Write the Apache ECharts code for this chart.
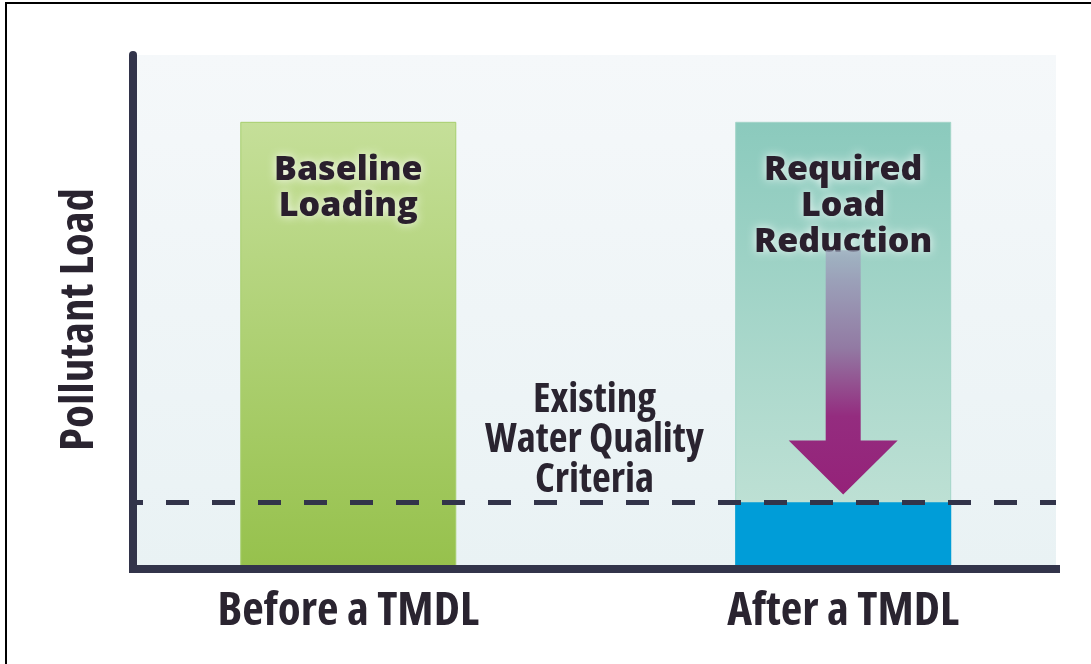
<!DOCTYPE html>
<html>
<head>
<meta charset="utf-8">
<script src="https://cdn.jsdelivr.net/npm/echarts@6/dist/echarts.min.js"></script>
<style>
  html, body { margin: 0; padding: 0; background: #ffffff; }
  #chart { width: 1091px; height: 664px; }
</style>
</head>
<body>
<div id="chart"></div>
<script>
// Category names and their positions on the horizontal scale
const categories = ['Before a TMDL', 'After a TMDL'];
const categoryPositions = [1, 3];

// Pollutant load (relative units)
const baselineLoad = [87, 87];        // load before / starting load after
const criteriaLoad = 13;              // existing water quality criteria
const reductionArrow = [62, 14.5];    // arrow tail and tip of the required reduction

const barLabels = ['Baseline\nLoading', 'Required\nLoad\nReduction'];
const criteriaLabel = 'Existing\nWater Quality\nCriteria';
const yAxisName = 'Pollutant Load';

// condensed width of Open Sans for the axis captions
const narrowFont = '"Open Sans", "DejaVu Sans Condensed", sans-serif';
const narrowWeight = 'bold condensed';
const boldFont = '"Open Sans", "Noto Sans", sans-serif';
const ink = '#2a2430';
const axisInk = '#32344a';

const glowLabel = {
  show: true,
  position: 'insideTop',
  distance: 30,
  fontFamily: boldFont,
  fontWeight: 800,
  fontSize: 34,
  lineHeight: 36,
  color: '#2a1f2d',
  textShadowColor: 'rgba(255,255,255,0.9)',
  textShadowBlur: 10
};

const chart = echarts.init(document.getElementById('chart'), null, { renderer: 'canvas' });

chart.setOption({
  animation: false,
  backgroundColor: '#ffffff',
  graphic: [
    { type: 'line', shape: { x1: 6, y1: 2, x2: 6, y2: 664 }, style: { stroke: '#000', lineWidth: 2 } },
    { type: 'line', shape: { x1: 5, y1: 3, x2: 1091, y2: 3 }, style: { stroke: '#000', lineWidth: 2 } }
  ],
  grid: {
    left: 133, right: 35, top: 55, bottom: 95,
    show: true,
    borderWidth: 0,
    backgroundColor: new echarts.graphic.LinearGradient(0, 0, 0, 1, [
      { offset: 0, color: '#f5f8fa' },
      { offset: 1, color: '#e9f2f4' }
    ])
  },
  xAxis: {
    type: 'value',
    min: 0.13,
    max: 3.86,
    z: 5,
    axisLine: { show: true, onZero: false, lineStyle: { color: axisInk, width: 8, cap: 'square' } },
    axisTick: { show: false },
    splitLine: { show: false },
    axisLabel: {
      customValues: categoryPositions,
      formatter: v => categories[categoryPositions.indexOf(v)],
      margin: 19,
      fontFamily: narrowFont,
      fontWeight: narrowWeight,
      fontSize: 47,
      color: ink
    }
  },
  yAxis: {
    type: 'value',
    min: 0,
    max: 100,
    z: 5,
    name: yAxisName,
    nameLocation: 'middle',
    nameGap: 30,
    nameTextStyle: {
      fontFamily: narrowFont,
      fontWeight: narrowWeight,
      fontSize: 47,
      color: ink,
      padding: [0, 15, 0, 0]
    },
    axisLine: { show: true, lineStyle: { color: axisInk, width: 8 } },
    axisTick: { show: false },
    axisLabel: { show: false },
    splitLine: { show: false }
  },
  series: [
    {
      name: 'baseline',
      type: 'bar',
      barWidth: 216,
      barGap: '-100%',
      data: [[categoryPositions[0], baselineLoad[0]]],
      itemStyle: {
        color: new echarts.graphic.LinearGradient(0, 0, 0, 1, [
          { offset: 0, color: '#c5df99' },
          { offset: 1, color: '#96c14c' }
        ]),
        borderColor: '#a6cf6d',
        borderWidth: 1
      },
      label: Object.assign({}, glowLabel, { formatter: barLabels[0] })
    },
    {
      name: 'reduction',
      type: 'bar',
      barWidth: 216,
      barGap: '-100%',
      data: [[categoryPositions[1], baselineLoad[1]]],
      itemStyle: {
        color: new echarts.graphic.LinearGradient(0, 0, 0, 1, [
          { offset: 0, color: '#8bcabd' },
          { offset: 0.85, color: '#bde0d4' },
          { offset: 1, color: '#bde0d4' }
        ]),
        borderColor: '#a3d5c8',
        borderWidth: 1
      },
      label: Object.assign({}, glowLabel, { formatter: barLabels[1] })
    },
    {
      name: 'allowed',
      type: 'bar',
      barWidth: 216,
      barGap: '-100%',
      data: [[categoryPositions[1], criteriaLoad]],
      itemStyle: { color: '#009dd8' },
      markLine: {
        silent: true,
        symbol: 'none',
        data: [{ yAxis: criteriaLoad }],
        lineStyle: { color: axisInk, width: 5, type: [23, 23], dashOffset: 13, opacity: 1 },
        label: {
          show: true,
          position: 'middle',
          distance: 2,
          formatter: criteriaLabel,
          fontFamily: narrowFont,
          fontWeight: narrowWeight,
          fontSize: 41,
          lineHeight: 40,
          color: ink
        }
      }
    },
    {
      name: 'arrow',
      type: 'custom',
      z: 3,
      data: [[categoryPositions[1], reductionArrow[0], reductionArrow[1]]],
      renderItem: function (params, api) {
        const x = api.value(0);
        const tail = api.coord([x, api.value(1)]);
        const tip = api.coord([x, api.value(2)]);
        const cx = tip[0];
        const shaftHalf = 17.5;
        const headHalf = 54.5;
        const headLen = 54;
        const neckY = tip[1] - headLen;
        return {
          type: 'polygon',
          shape: {
            points: [
              [cx - shaftHalf, tail[1]],
              [cx + shaftHalf, tail[1]],
              [cx + shaftHalf, neckY],
              [cx + headHalf, neckY],
              [cx, tip[1]],
              [cx - headHalf, neckY],
              [cx - shaftHalf, neckY]
            ]
          },
          style: {
            fill: new echarts.graphic.LinearGradient(0, 0, 0, 1, [
              { offset: 0, color: 'rgba(160,170,192,0.75)' },
              { offset: 0.12, color: '#9ba1b9' },
              { offset: 0.4, color: '#927aa3' },
              { offset: 0.68, color: '#942c7f' },
              { offset: 1, color: '#952279' }
            ])
          }
        };
      }
    }
  ]
});
</script>
</body>
</html>
